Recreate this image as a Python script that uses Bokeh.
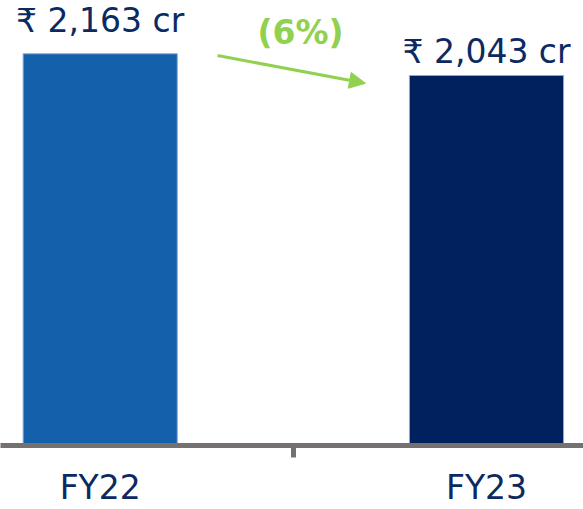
from bokeh.plotting import figure
from bokeh.models import Range1d, FixedTicker, Arrow, NormalHead, ColumnDataSource
from bokeh.core.properties import value
from bokeh.embed import file_html
from bokeh.resources import INLINE

# ---- data ----
categories = ["FY22", "FY23"]
revenue = [2163, 2043]
value_labels = ["₹ 2,163 cr", "₹ 2,043 cr"]
change_label = "(6%)"

# ---- styles ----
bar_colors = ["#1460AA", "#01215E"]
label_offsets = [-33, -24]
text_color = "#0B2A62"
green = "#92D050"
axis_gray = "#767171"
FONT = "DejaVu Sans"

xpos = list(range(len(categories)))

p = figure(width=583, height=509, output_backend="svg", toolbar_location=None,
           x_range=Range1d(-0.2581, 1.2511), y_range=Range1d(0, 2457),
           min_border_left=0, min_border_right=0, min_border_top=0, min_border_bottom=64)
p.outline_line_color = None
p.background_fill_color = "white"
p.border_fill_color = "white"
p.grid.visible = False
p.yaxis.visible = False

src = ColumnDataSource(dict(x=xpos, top=revenue, color=bar_colors,
                            label=value_labels, yoff=label_offsets))

p.vbar(x="x", top="top", bottom=0, width=0.399, fill_color="color",
       line_color="#8FA9D6", line_width=1, source=src)

p.text(x="x", y="top", text="label", y_offset="yoff", source=src,
       text_align="center", text_baseline="alphabetic",
       text_font=value(FONT), text_font_size="33px", text_color=text_color)

# change annotation
p.text(x=[0.5185], y=[2281], text=[change_label], text_align="center",
       text_baseline="alphabetic", text_font=value(FONT), text_font_size="33px",
       text_font_style="bold", text_color=green)
p.add_layout(Arrow(end=NormalHead(size=16, fill_color=green, line_color=green),
                   x_start=0.3037, y_start=2153, x_end=0.6867, y_end=2000,
                   line_color=green, line_width=3))

ax = p.xaxis[0]
ax.ticker = FixedTicker(ticks=xpos, minor_ticks=[0.5])
ax.major_label_overrides = {i: c for i, c in zip(xpos, categories)}
ax.axis_line_color = axis_gray
ax.axis_line_width = 5
ax.major_tick_line_color = None
ax.major_tick_out = 0
ax.major_tick_in = 0
ax.minor_tick_line_color = axis_gray
ax.minor_tick_line_width = 5
ax.minor_tick_out = 12
ax.minor_tick_in = 0
ax.major_label_standoff = 10
ax.major_label_text_font = FONT
ax.major_label_text_font_size = "33px"
ax.major_label_text_color = text_color

open("out.html", "w").write(file_html(p, INLINE))
